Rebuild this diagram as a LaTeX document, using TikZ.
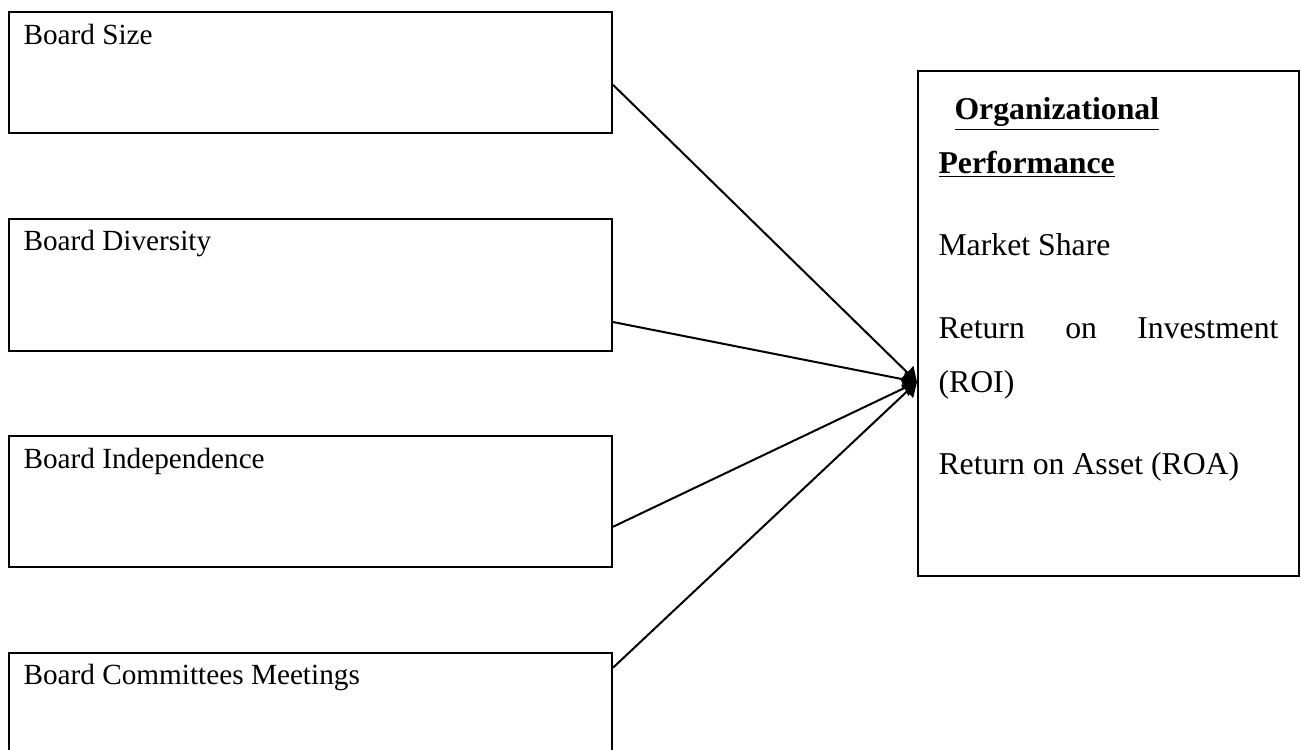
\documentclass[tikz,border=0pt]{standalone}
\usepackage{fontspec}
\setmainfont{Liberation Serif}
\usetikzlibrary{arrows.meta,positioning,calc}

\begin{document}
\begin{tikzpicture}[
        x=0.4pt, y=-0.4pt,
        node distance=33.4pt,
        box/.style={rectangle, draw=black, line width=0.8pt, inner sep=0pt,
            minimum width=241.2pt},
        lbl/.style={anchor=base west, inner sep=0pt, font=\fontsize{11.7}{14}\selectfont},
        perfbox/.style={rectangle, draw=black, line width=0.9pt, inner sep=0pt,
            minimum width=152.4pt, minimum height=202pt, anchor=north west},
        item/.style={anchor=base west, inner sep=0pt, font=\fontsize{12.7}{15}\selectfont},
        arr/.style={-{Triangle[length=5.5pt, width=7pt]}, line width=0.8pt, draw=black}
    ]
    \useasboundingbox (0,0) rectangle (1301,749);

    % Board characteristics
    \node[box, minimum height=48.4pt, anchor=north west] (size) at (8,11) {};
    \node[box, minimum height=52.8pt, below=of size] (diversity) {};
    \node[box, minimum height=52.4pt, below=of diversity] (independence) {};
    \node[box, minimum height=42.4pt, below=of independence] (meetings) {};

    \node[lbl] (sizelbl) at ($(size.north west)+(15,33)$) {Board Size};
    \node[lbl] (diversitylbl) at ($(diversity.north west)+(15,33)$) {Board Diversity};
    \node[lbl] (independencelbl) at ($(independence.north west)+(15,33)$) {Board Independence};
    \node[lbl] (meetingslbl) at ($(meetings.north west)+(15,33)$) {Board Committees Meetings};

    % Organizational performance
    \node[perfbox] (perf) at (917,70) {};
    \node[item] (perftitle) at ($(perf.north west)+(37,49)$) {\underline{\textbf{Organizational}}};
    \node[item] (perftitle2) at ($(perf.north west)+(21,103)$) {\underline{\textbf{Performance}}};
    \node[item] (share) at ($(perf.north west)+(21,185)$) {Market Share};
    \node[item] (roi) at ($(perf.north west)+(21,268)$) {\makebox[136pt][s]{Return on Investment}};
    \node[item] (roi2) at ($(perf.north west)+(21,322)$) {(ROI)};
    \node[item] (roa) at ($(perf.north west)+(21,404)$) {Return on Asset (ROA)};

    \coordinate (tip) at ($(perf.north west)+(0,312)$);

    \draw[arr] ($(size.north east)!0.60!(size.south east)$) -- (tip);
    \draw[arr] ($(diversity.north east)!0.78!(diversity.south east)$) -- (tip);
    \draw[arr] ($(independence.north east)!0.69!(independence.south east)$) -- (tip);
    \draw[arr] ($(meetings.north east)!0.15!(meetings.south east)$) -- (tip);
\end{tikzpicture}
\end{document}
